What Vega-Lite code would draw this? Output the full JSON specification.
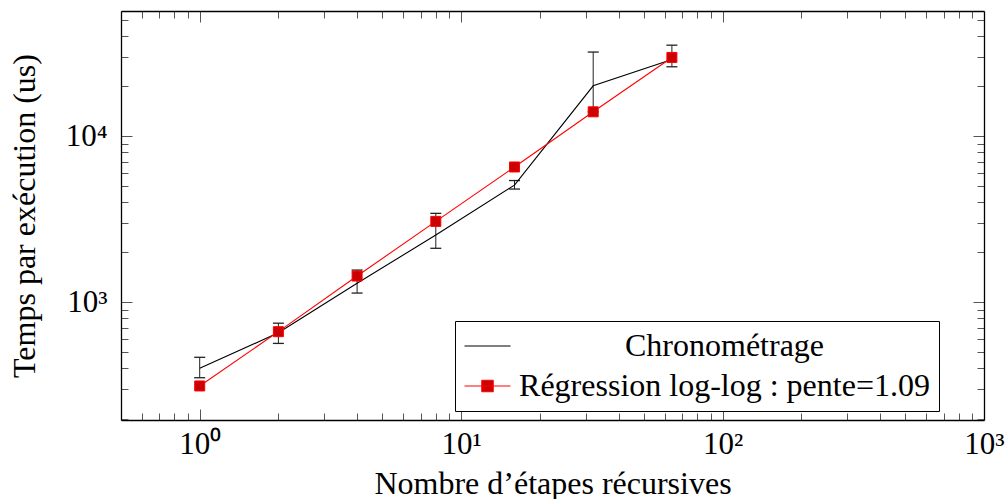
{
  "$schema": "https://vega.github.io/schema/vega-lite/v6.json",
  "width": 863,
  "height": 409,
  "autosize": "none",
  "padding": {"left": 121, "top": 11, "right": 24, "bottom": 79},
  "background": "white",
  "config": {
    "font": "Liberation Serif",
    "view": {"stroke": null},
    "axis": {
      "grid": false,
      "domainColor": "black",
      "domainWidth": 1.3,
      "tickColor": "#555555",
      "tickWidth": 1,
      "labelFont": "Liberation Serif",
      "labelFontSize": 31,
      "labelColor": "black",
      "labelFlush": false,
      "labelOverlap": false,
      "titleFont": "Liberation Serif",
      "titleFontSize": 32,
      "titleFontWeight": "normal",
      "titleColor": "black"
    }
  },
  "datasets": {
    "meas": [
      {"n": 1, "t": 401, "lo": 352, "hi": 467},
      {"n": 2, "t": 656, "lo": 566, "hi": 749},
      {"n": 4, "t": 1301, "lo": 1137, "hi": 1563},
      {"n": 8, "t": 2540, "lo": 2113, "hi": 3428},
      {"n": 16, "t": 5070, "lo": 4800, "hi": 5400},
      {"n": 32, "t": 20050, "lo": 14000, "hi": 32000},
      {"n": 64, "t": 28900, "lo": 26100, "hi": 35200}
    ],
    "reg": [
      {"n": 1, "t": 314},
      {"n": 2, "t": 666},
      {"n": 4, "t": 1439},
      {"n": 8, "t": 3067},
      {"n": 16, "t": 6516},
      {"n": 32, "t": 13990},
      {"n": 64, "t": 29700}
    ],
    "lines": [
      {"serie": "Chronométrage", "n": 1, "t": 401},
      {"serie": "Chronométrage", "n": 2, "t": 656},
      {"serie": "Chronométrage", "n": 4, "t": 1301},
      {"serie": "Chronométrage", "n": 8, "t": 2540},
      {"serie": "Chronométrage", "n": 16, "t": 5070},
      {"serie": "Chronométrage", "n": 32, "t": 20050},
      {"serie": "Chronométrage", "n": 64, "t": 28900},
      {"serie": "Régression log-log : pente=1.09", "n": 1, "t": 314},
      {"serie": "Régression log-log : pente=1.09", "n": 2, "t": 666},
      {"serie": "Régression log-log : pente=1.09", "n": 4, "t": 1439},
      {"serie": "Régression log-log : pente=1.09", "n": 8, "t": 3067},
      {"serie": "Régression log-log : pente=1.09", "n": 16, "t": 6516},
      {"serie": "Régression log-log : pente=1.09", "n": 32, "t": 13990},
      {"serie": "Régression log-log : pente=1.09", "n": 64, "t": 29700}
    ]
  },
  "layer": [
    {
      "data": {"name": "meas"},
      "mark": {"type": "rule", "color": "#222222", "strokeWidth": 1},
      "encoding": {
        "x": {
          "field": "n", "type": "quantitative",
          "scale": {"type": "log", "domain": [0.5, 1000], "nice": false},
          "axis": {
            "orient": "bottom",
            "values": [0.5, 0.6, 0.7, 0.8, 0.9, 1, 2, 3, 4, 5, 6, 7, 8, 9, 10, 20, 30, 40, 50, 60, 70, 80, 90, 100, 200, 300, 400, 500, 600, 700, 800, 900, 1000],
            "labelExpr": "datum.value == 1 ? '10⁰' : datum.value == 10 ? '10¹' : datum.value == 100 ? '10²' : datum.value == 1000 ? '10³' : ''",
            "tickSize": {"condition": {"test": "datum.value == 1 || datum.value == 10 || datum.value == 100 || datum.value == 1000", "value": -11}, "value": -7},
            "labelPadding": 20,
            "title": "Nombre d’étapes récursives",
            "titlePadding": 5
          }
        },
        "y": {
          "field": "lo", "type": "quantitative",
          "scale": {"type": "log", "domain": [196, 56500], "nice": false},
          "axis": {
            "orient": "left",
            "values": [200, 300, 400, 500, 600, 700, 800, 900, 1000, 2000, 3000, 4000, 5000, 6000, 7000, 8000, 9000, 10000, 20000, 30000, 40000, 50000],
            "labelExpr": "datum.value == 1000 ? '10³' : datum.value == 10000 ? '10⁴' : ''",
            "tickSize": {"condition": {"test": "datum.value == 1000 || datum.value == 10000", "value": -11}, "value": -7},
            "labelPadding": 25,
            "title": "Temps par exécution (us)",
            "titlePadding": 24
          }
        },
        "y2": {"field": "hi"}
      }
    },
    {
      "data": {"name": "meas"},
      "mark": {"type": "point", "shape": "M-1,0H1", "size": 121, "filled": false, "stroke": "#222222", "strokeWidth": 1.3, "opacity": 1},
      "encoding": {
        "x": {
          "field": "n", "type": "quantitative",
          "scale": {"type": "log", "domain": [0.5, 1000], "nice": false},
          "axis": {
            "orient": "top",
            "values": [0.5, 0.6, 0.7, 0.8, 0.9, 1, 2, 3, 4, 5, 6, 7, 8, 9, 10, 20, 30, 40, 50, 60, 70, 80, 90, 100, 200, 300, 400, 500, 600, 700, 800, 900, 1000],
            "labels": false,
            "tickSize": {"condition": {"test": "datum.value == 1 || datum.value == 10 || datum.value == 100 || datum.value == 1000", "value": -11}, "value": -7},
            "title": null
          }
        },
        "y": {
          "field": "lo", "type": "quantitative",
          "scale": {"type": "log", "domain": [196, 56500], "nice": false},
          "axis": {
            "orient": "right",
            "values": [200, 300, 400, 500, 600, 700, 800, 900, 1000, 2000, 3000, 4000, 5000, 6000, 7000, 8000, 9000, 10000, 20000, 30000, 40000, 50000],
            "labels": false,
            "tickSize": {"condition": {"test": "datum.value == 1000 || datum.value == 10000", "value": -11}, "value": -7},
            "title": null
          }
        }
      }
    },
    {
      "data": {"name": "meas"},
      "mark": {"type": "point", "shape": "M-1,0H1", "size": 121, "filled": false, "stroke": "#222222", "strokeWidth": 1.3, "opacity": 1},
      "encoding": {
        "x": {"field": "n", "type": "quantitative", "scale": {"type": "log", "domain": [0.5, 1000], "nice": false}, "axis": null},
        "y": {"field": "hi", "type": "quantitative", "scale": {"type": "log", "domain": [196, 56500], "nice": false}, "axis": null}
      }
    },
    {
      "data": {"name": "lines"},
      "mark": {"type": "line", "strokeWidth": 1.1},
      "encoding": {
        "x": {"field": "n", "type": "quantitative", "scale": {"type": "log", "domain": [0.5, 1000], "nice": false}, "axis": null},
        "y": {"field": "t", "type": "quantitative", "scale": {"type": "log", "domain": [196, 56500], "nice": false}, "axis": null},
        "color": {
          "field": "serie", "type": "nominal",
          "scale": {"domain": ["Chronométrage", "Régression log-log : pente=1.09"], "range": ["black", "red"]},
          "legend": {
            "orient": "none",
            "legendX": 334,
            "legendY": 310,
            "title": null,
            "padding": 9,
            "rowPadding": 8,
            "fillColor": "white",
            "strokeColor": "black",
            "symbolSize": 400,
            "symbolStrokeWidth": 1,
            "symbolOffset": 7.5,
            "labelFont": "Liberation Serif",
            "labelFontSize": 32,
            "labelColor": "black",
            "labelAlign": "center",
            "labelOffset": 221,
            "labelLimit": 800,
            "encode": {
              "symbols": {
                "update": {
                  "shape": {"signal": "datum.value == 'Chronométrage' ? 'M-2.3,0H2.3' : 'M-2.3,0H2.3M-0.575,-0.575H0.575V0.575H-0.575Z'"},
                  "fill": {"signal": "datum.value == 'Chronométrage' ? 'transparent' : '#cc0000'"},
                  "stroke": {"signal": "datum.value == 'Chronométrage' ? 'black' : 'red'"},
                  "strokeWidth": {"value": 1},
                  "opacity": {"value": 1}
                }
              }
            }
          }
        }
      }
    },
    {
      "data": {"name": "reg"},
      "mark": {"type": "point", "shape": "square", "size": 100, "filled": true, "fill": "#cc0000", "stroke": "red", "strokeWidth": 1, "opacity": 1},
      "encoding": {
        "x": {"field": "n", "type": "quantitative", "scale": {"type": "log", "domain": [0.5, 1000], "nice": false}, "axis": null},
        "y": {"field": "t", "type": "quantitative", "scale": {"type": "log", "domain": [196, 56500], "nice": false}, "axis": null}
      }
    }
  ],
  "resolve": {"axis": {"x": "independent", "y": "independent"}}
}
